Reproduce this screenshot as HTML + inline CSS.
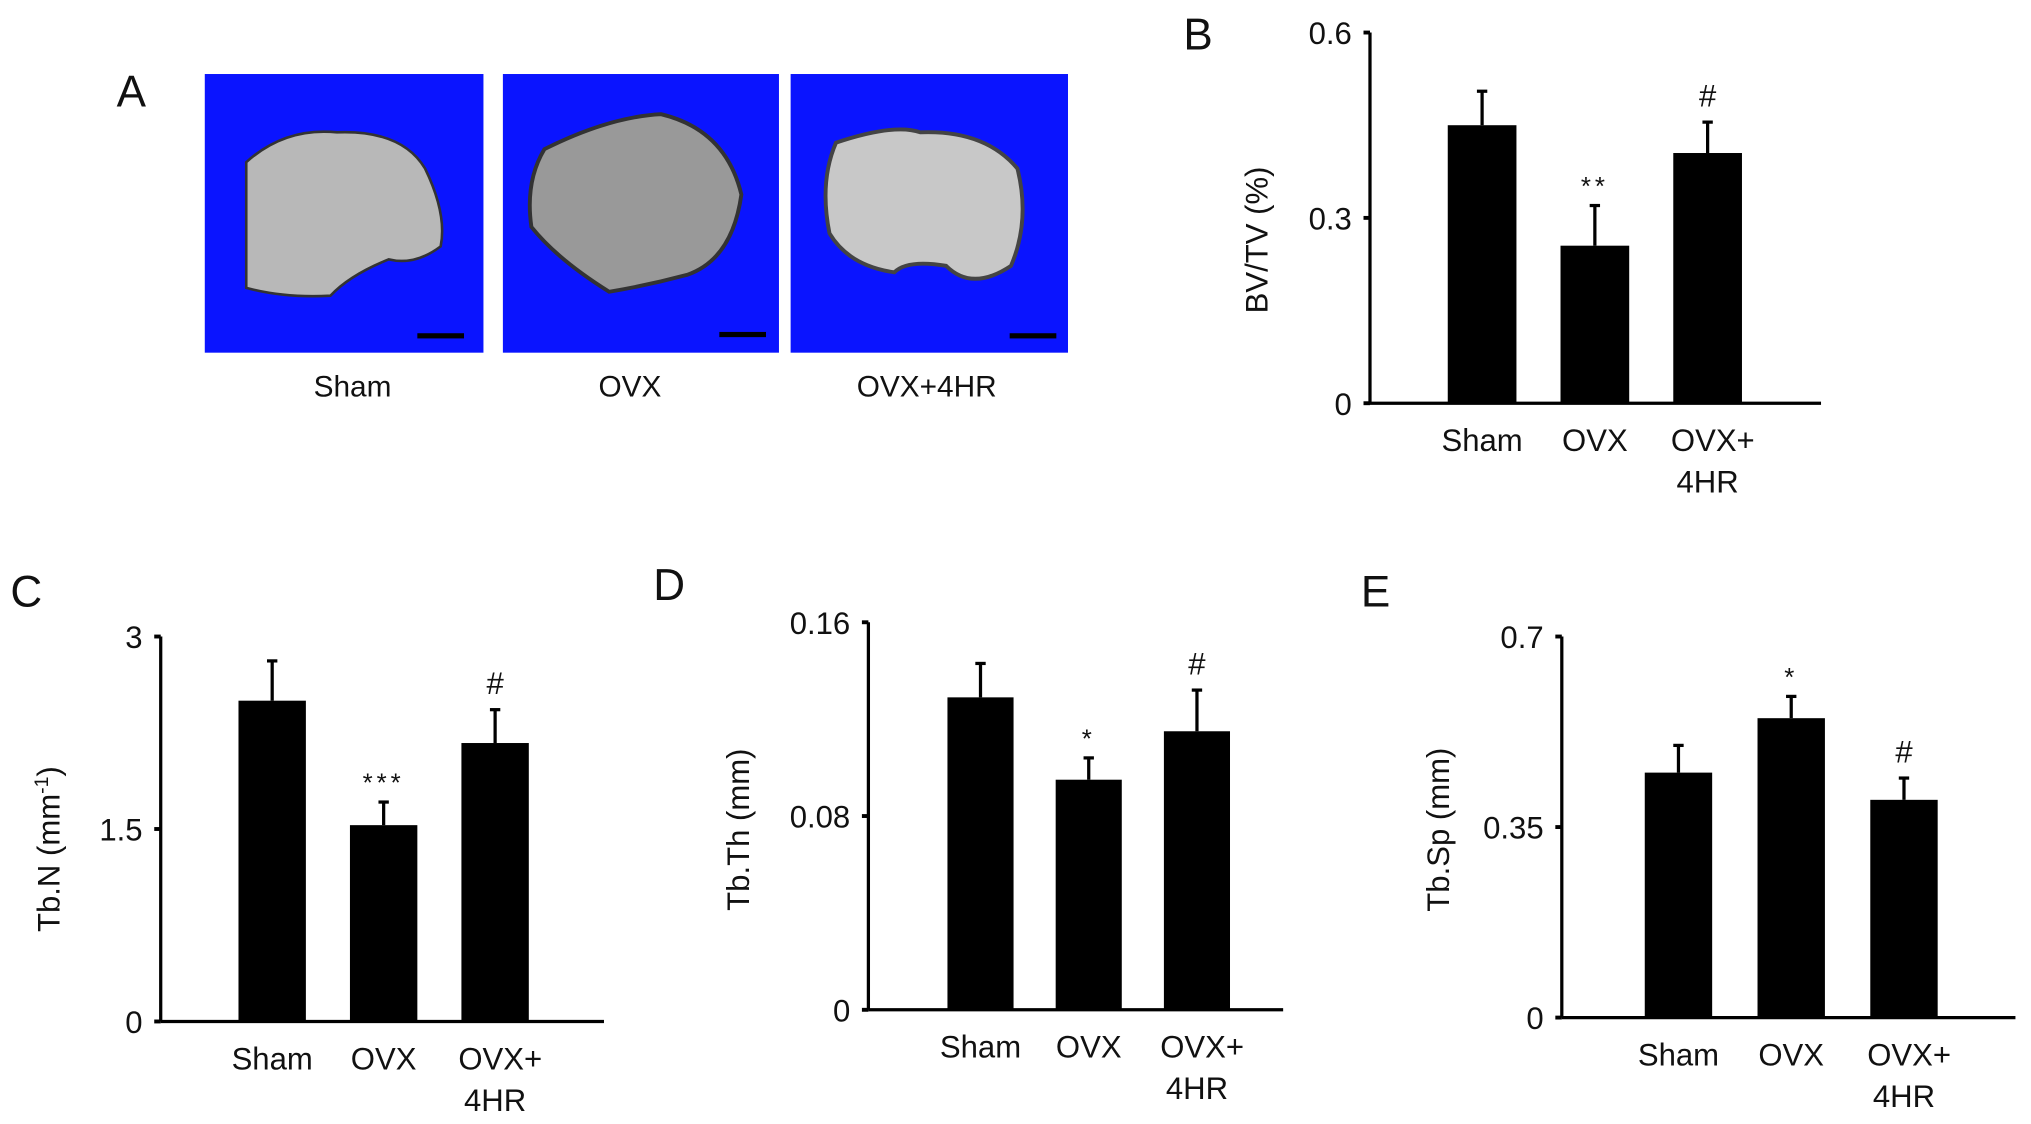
<!DOCTYPE html>
<html><head><meta charset="utf-8"><style>
html,body{margin:0;padding:0;background:#fff}
svg{display:block}
text{font-family:"Liberation Sans",sans-serif;fill:#111}
</style></head><body>
<svg id="fig" width="2031" height="1124" viewBox="0 0 1567 867" xmlns="http://www.w3.org/2000/svg">
<g>
<text x="90" y="82" font-size="34">A</text>
<rect x="158" y="57" width="215" height="215" fill="#0a14ff"/>
<rect x="388" y="57" width="213" height="215" fill="#0a14ff"/>
<rect x="610" y="57" width="214" height="215" fill="#0a14ff"/>
<path d="M190,125 Q220,98 260,102 Q310,100 328,130 Q345,165 340,190 Q320,205 300,200 Q270,212 255,228 Q220,230 190,222 Z" fill="#b8b8b8" stroke="#333" stroke-width="2"/>
<path d="M420,115 Q470,90 510,88 Q560,100 572,150 Q565,200 530,212 Q500,220 470,225 Q430,200 410,175 Q405,140 420,115 Z" fill="#999" stroke="#333" stroke-width="3"/>
<path d="M645,110 Q690,95 710,102 Q760,100 785,130 Q795,170 780,205 Q750,225 730,205 Q700,200 690,210 Q655,205 640,180 Q632,140 645,110 Z" fill="#c8c8c8" stroke="#444" stroke-width="3"/>
<rect x="322" y="257" width="36" height="4" fill="#000"/>
<rect x="555" y="256" width="36" height="4" fill="#000"/>
<rect x="779" y="257" width="36" height="4" fill="#000"/>
<text x="272" y="306" font-size="23" text-anchor="middle">Sham</text>
<text x="486" y="306" font-size="23" text-anchor="middle">OVX</text>
<text x="715" y="306" font-size="23" text-anchor="middle">OVX+4HR</text>
</g>
<g id="charts"></g>
</svg>
<script>
const groups = ["Sham", "OVX", "OVX+4HR"];
const bvtvMeans = [0.45, 0.255, 0.405];
const bvtvErr = [0.055, 0.065, 0.05];
const bvtvTicks = ["0", "0.3", "0.6"];
const tbnMeans = [2.5, 1.53, 2.17];
const tbnErr = [0.31, 0.18, 0.26];
const tbnTicks = ["0", "1.5", "3"];
const tbthMeans = [0.129, 0.095, 0.115];
const tbthErr = [0.014, 0.009, 0.017];
const tbthTicks = ["0", "0.08", "0.16"];
const tbspMeans = [0.45, 0.55, 0.40];
const tbspErr = [0.05, 0.04, 0.04];
const tbspTicks = ["0", "0.35", "0.7"];
const bvtvMarks = ["", "**", "#"];
const tbnMarks = ["", "***", "#"];
const tbthMarks = ["", "*", "#"];
const tbspMarks = ["", "*", "#"];

const NS = "http://www.w3.org/2000/svg";
const root = document.getElementById("charts");
function mk(tag, attrs, parent, txt){
  const e = document.createElementNS(NS, tag);
  for (const k in attrs) e.setAttribute(k, attrs[k]);
  if (txt !== undefined) e.textContent = txt;
  parent.appendChild(e);
  return e;
}
function chart(cfg){
  const g = mk("g", {}, root);
  
  
  const max = parseFloat(cfg.ticks[cfg.ticks.length-1]);
  const y = v => cfg.y0 - (v / max) * (cfg.y0 - cfg.yTop);
  const pl = mk("text", {x: cfg.lx, y: cfg.ly, "font-size": 34}, g, cfg.letter);
  
  
  const ax = mk("line", {x1: cfg.ax, y1: cfg.yTop, x2: cfg.ax, y2: cfg.y0, stroke: "#000", "stroke-width": 2.5}, g);
  
  
  const xa = mk("line", {x1: cfg.ax, y1: cfg.y0, x2: cfg.xEnd, y2: cfg.y0, stroke: "#000", "stroke-width": 2.5}, g);
  
  
  cfg.ticks.forEach(t => {
    const yy = y(parseFloat(t));
    const tk = mk("line", {x1: cfg.ax - 5, y1: yy, x2: cfg.ax, y2: yy, stroke: "#000", "stroke-width": 3}, g);
    
    
    const tl = mk("text", {x: cfg.ax - 14, y: yy + 9, "font-size": 24, "text-anchor": "end"}, g, t);
    
    
  });
  const tt = mk("text", {x: 0, y: 0, "font-size": 24, "text-anchor": "middle", transform: `translate(${cfg.tx},${cfg.ty}) rotate(-90)`}, g);
  
  
  tt.textContent = cfg.title;
  if (cfg.sup) { const s = mk("tspan", {"font-size": 15, dy: -9}, tt, cfg.sup); mk("tspan", {dy: 9}, tt, ")"); }
  cfg.means.forEach((m, i) => {
    const x = cfg.x0 + i * cfg.step;
    const top = y(m), et = y(m + cfg.err[i]);
    const cx = x + cfg.bw / 2;
    const el = mk("line", {x1: cx, y1: top, x2: cx, y2: et, stroke: "#000", "stroke-width": 2.5}, g);
    
    
    const cap = mk("line", {x1: cx - 4, y1: et, x2: cx + 4, y2: et, stroke: "#000", "stroke-width": 2.5}, g);
    
    
    const b = mk("rect", {x: x, y: top, width: cfg.bw, height: cfg.y0 - top, fill: "#000"}, g);
    
    
    if (cfg.marks[i]) {
      const isHash = cfg.marks[i] === "#";
      const mt = mk("text", {x: cx, y: et - (isHash ? 12 : 8), "font-size": isHash ? 24 : 20, "text-anchor": "middle", "letter-spacing": isHash ? 0 : 3}, g, cfg.marks[i]);
      
      
    }
    const lbl = groups[i] === "OVX+4HR" ? ["OVX+", "4HR"] : [groups[i]];
    lbl.forEach((s, j) => {
      const xl = mk("text", {x: cx + (j === 0 && lbl.length > 1 ? 4 : 0), y: cfg.y0 + 37 + j * 32, "font-size": 24, "text-anchor": "middle"}, g, s);
      
      
    });
  });
}
chart({name:"chart-bvtv", letter:"B", lx:913, ly:38, ax:1057, yTop:25, y0:311, xEnd:1405, x0:1117, step:87, bw:53, means:bvtvMeans, err:bvtvErr, ticks:bvtvTicks, marks:bvtvMarks, title:"BV/TV (%)", tx:978, ty:185});
chart({name:"chart-tbn", letter:"C", lx:8, ly:468, ax:124, yTop:491, y0:788, xEnd:466, x0:184, step:86, bw:52, means:tbnMeans, err:tbnErr, ticks:tbnTicks, marks:tbnMarks, title:"Tb.N (mm", sup:"-1", tx:46, ty:655});
chart({name:"chart-tbth", letter:"D", lx:504, ly:463, ax:670, yTop:480, y0:779, xEnd:990, x0:731, step:83.5, bw:51, means:tbthMeans, err:tbthErr, ticks:tbthTicks, marks:tbthMarks, title:"Tb.Th (mm)", tx:578, ty:640});
chart({name:"chart-tbsp", letter:"E", lx:1050, ly:468, ax:1205, yTop:491, y0:785, xEnd:1555, x0:1269, step:87, bw:52, means:tbspMeans, err:tbspErr, ticks:tbspTicks, marks:tbspMarks, title:"Tb.Sp (mm)", tx:1118, ty:640});
</script>
</body></html>
